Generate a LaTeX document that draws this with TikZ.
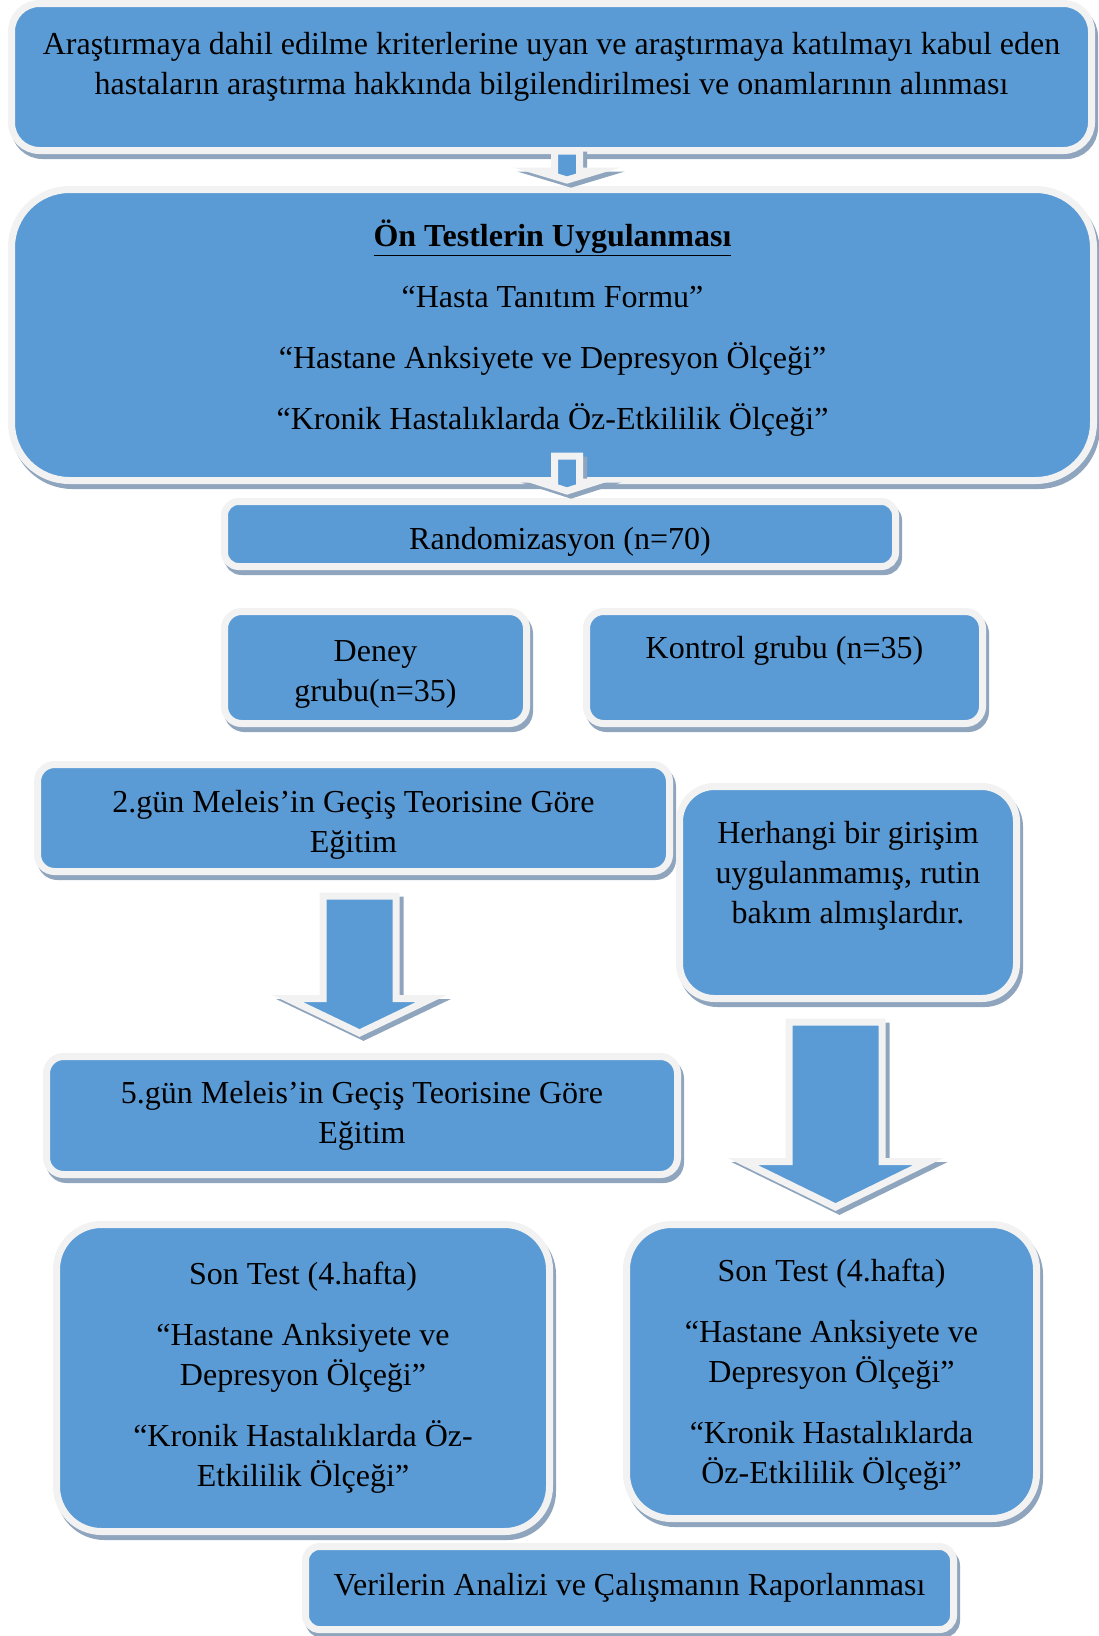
\documentclass[tikz,border=0pt]{standalone}
\usepackage{fontspec}
\setmainfont{Liberation Serif}
\usepackage{xcolor}
\usepackage{tikz}
\usetikzlibrary{positioning}
\definecolor{boxblue}{HTML}{5B9BD5}
\definecolor{boxrim}{HTML}{F2F2F2}
\definecolor{boxshade}{HTML}{8FA5BE}
\tikzset{
    every node/.style={font=\fontsize{32}{40}\selectfont, align=center, text=black}, % one font for every text
    flowbox/.style={draw=boxrim, fill=boxblue, line width=7pt, inner sep=0pt,
        preaction={draw=boxshade, fill=boxshade, line width=7pt, transform canvas={xshift=3pt, yshift=-5pt}}}, % blue box, light rim, grey shadow
    bigarrow/.style={draw=boxrim, fill=boxblue, line width=7pt, line join=miter,
        preaction={draw=boxshade, fill=boxshade, line width=7pt, line join=miter, transform canvas={xshift=4pt, yshift=-4pt}}}, % the block arrows
}
% block arrow pointing down: x, top, base of head, tip, half shaft, half head
\def\downarrow#1#2#3#4#5#6{\draw[bigarrow] (#1-#5,#2) -- (#1+#5,#2) -- (#1+#5,#3) -- (#1+#6,#3) -- (#1,#4) -- (#1-#6,#3) -- (#1-#5,#3) -- cycle;}
\def\gap{\\[21pt]}

\begin{document}
\begin{tikzpicture}[x=1pt, y=-1pt]
        \useasboundingbox (0,0) rectangle (1099,1636);
        \node[flowbox, rounded corners=28pt, minimum width=1080pt, minimum height=147pt] (consent) at (551.5,77)
            {Araştırmaya dahil edilme kriterlerine uyan ve araştırmaya katılmayı kabul eden\\hastaların araştırma hakkında bilgilendirilmesi ve onamlarının alınması\\[-12pt]\mbox{}};
        \node[flowbox, rounded corners=58pt, minimum width=1082pt, minimum height=291pt] (pretest) at (552.5,335)
            {\underline{\textbf{Ön Testlerin Uygulanması}}\gap “Hasta Tanıtım Formu”\gap “Hastane Anksiyete ve Depresyon Ölçeği”\gap “Kronik Hastalıklarda Öz-Etkililik Ölçeği”\\[-20pt]\mbox{}};
        \node[flowbox, rounded corners=14pt, minimum width=671pt, minimum height=65pt, text height=31pt, text depth=0pt] (random) at (560,534)
            {Randomizasyon (n=70)};
        \node[flowbox, rounded corners=17pt, minimum width=302pt, minimum height=112pt] (deney) at (375.5,667.5)
            {\mbox{}\\[-5pt]Deney\\grubu(n=35)};
        \node[flowbox, rounded corners=17pt, minimum width=396pt, minimum height=112pt] (kontrol) at (784.5,667.5)
            {Kontrol grubu (n=35)\\\mbox{}};
        \node[flowbox, rounded corners=17pt, minimum width=632pt, minimum height=107pt] (gun2) at (353.5,818)
            {\mbox{}\\[-3.5pt]2.gün Meleis’in Geçiş Teorisine Göre\\Eğitim};
        \node[flowbox, rounded corners=35pt, minimum width=337pt, minimum height=212pt] (rutin) at (848,892.5)
            {Herhangi bir girişim\\uygulanmamış, rutin\\bakım almışlardır.\\\mbox{}};
        \node[flowbox, rounded corners=17pt, minimum width=631pt, minimum height=118pt] (gun5) at (362,1115.5)
            {5.gün Meleis’in Geçiş Teorisine Göre\\Eğitim};
        \node[flowbox, rounded corners=45pt, minimum width=493pt, minimum height=307pt] (sondeney) at (303,1378)
            {Son Test (4.hafta)\gap “Hastane Anksiyete ve\\Depresyon Ölçeği”\gap “Kronik Hastalıklarda Öz-\\Etkililik Ölçeği”};
        \node[flowbox, rounded corners=45pt, minimum width=410pt, minimum height=294pt] (sonkontrol) at (831.5,1371.5)
            {\mbox{}\\[-12pt]Son Test (4.hafta)\gap “Hastane Anksiyete ve\\Depresyon Ölçeği”\gap “Kronik Hastalıklarda\\Öz-Etkililik Ölçeği”};
        \node[flowbox, rounded corners=14pt, minimum width=648pt, minimum height=83pt] (rapor) at (629.5,1588)
            {Verilerin Analizi ve Çalışmanın Raporlanması};
        % arrows between the steps
        \downarrow{567}{151}{171}{180}{12.5}{30}
        \downarrow{567}{456}{482}{491}{12.5}{28}
        \downarrow{359.5}{896}{998.5}{1033}{36.5}{72}
        \downarrow{835.5}{1022}{1161.5}{1207}{46.5}{93}
\end{tikzpicture}
\end{document}
